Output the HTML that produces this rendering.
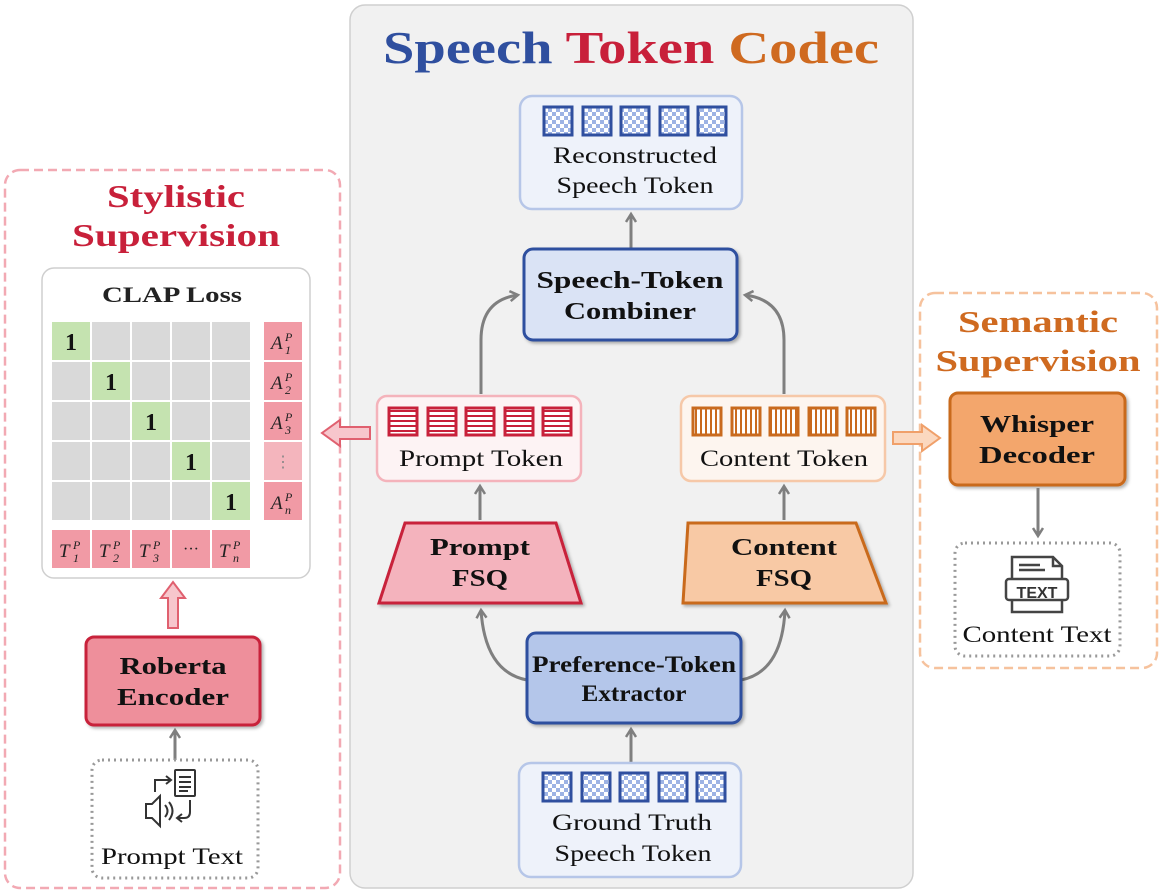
<!DOCTYPE html>
<html><head><meta charset="utf-8"><style>html,body{margin:0;padding:0;background:#fff}svg{display:block}text{font-family:"Liberation Serif",serif}</style></head><body>
<svg width="1163" height="894" viewBox="0 0 1163 894" xmlns="http://www.w3.org/2000/svg">
<defs>
<pattern id="chk" width="8" height="8" patternUnits="userSpaceOnUse"><rect width="8" height="8" fill="#fff"/><rect width="4" height="4" fill="#9db3e4"/><rect x="4" y="4" width="4" height="4" fill="#9db3e4"/></pattern>
<pattern id="hst" width="6" height="5" patternUnits="userSpaceOnUse"><rect width="6" height="5" fill="#fff"/><rect y="0" width="6" height="2" fill="#c8203a"/></pattern>
<pattern id="vst" width="5" height="6" patternUnits="userSpaceOnUse"><rect width="5" height="6" fill="#fff"/><rect x="0" width="2" height="6" fill="#c96a1e"/></pattern>
<marker id="ah" markerWidth="12" markerHeight="12" refX="9" refY="6" orient="auto" markerUnits="userSpaceOnUse"><path d="M1,1 L9,6 L1,11" fill="none" stroke="#7f7f7f" stroke-width="2.5"/></marker>
<filter id="sh" x="-10%" y="-10%" width="130%" height="130%"><feDropShadow dx="2" dy="2" stdDeviation="1.5" flood-color="#000" flood-opacity="0.3"/></filter>
</defs>
<rect width="1163" height="894" fill="#fff"/>
<rect x="350" y="5" width="563" height="883" rx="15" fill="#f1f1f1" stroke="#cfcfcf" stroke-width="1.5"/>
<text x="631" y="63" text-anchor="middle" font-size="46" font-weight="bold" textLength="496" lengthAdjust="spacingAndGlyphs"><tspan fill="#2f4f9f">Speech</tspan> <tspan fill="#c8203a">Token</tspan> <tspan fill="#cf6a20">Codec</tspan></text>

<rect x="5" y="170" width="335" height="718" rx="15" fill="#fff" stroke="#f2a9b3" stroke-width="2.5" stroke-dasharray="9,5"/>
<text x="176" y="207" text-anchor="middle" font-size="32" font-weight="bold" fill="#c8203a" textLength="138" lengthAdjust="spacingAndGlyphs">Stylistic</text>
<text x="176" y="246" text-anchor="middle" font-size="32" font-weight="bold" fill="#c8203a" textLength="208" lengthAdjust="spacingAndGlyphs">Supervision</text>
<rect x="42" y="268" width="268" height="310" rx="12" fill="#fff" stroke="#cfcfcf" stroke-width="1.5"/>
<text x="172" y="302" text-anchor="middle" font-size="22" font-weight="bold" fill="#222" textLength="140" lengthAdjust="spacingAndGlyphs">CLAP Loss</text>
<g fill="#d9d9d9">
<rect x="52" y="322" width="38" height="38" fill="#c5e3b0"/><rect x="92" y="322" width="38" height="38"/><rect x="132" y="322" width="38" height="38"/><rect x="172" y="322" width="38" height="38"/><rect x="212" y="322" width="38" height="38"/>
<rect x="52" y="362" width="38" height="38"/><rect x="92" y="362" width="38" height="38" fill="#c5e3b0"/><rect x="132" y="362" width="38" height="38"/><rect x="172" y="362" width="38" height="38"/><rect x="212" y="362" width="38" height="38"/>
<rect x="52" y="402" width="38" height="38"/><rect x="92" y="402" width="38" height="38"/><rect x="132" y="402" width="38" height="38" fill="#c5e3b0"/><rect x="172" y="402" width="38" height="38"/><rect x="212" y="402" width="38" height="38"/>
<rect x="52" y="442" width="38" height="38"/><rect x="92" y="442" width="38" height="38"/><rect x="132" y="442" width="38" height="38"/><rect x="172" y="442" width="38" height="38" fill="#c5e3b0"/><rect x="212" y="442" width="38" height="38"/>
<rect x="52" y="482" width="38" height="38"/><rect x="92" y="482" width="38" height="38"/><rect x="132" y="482" width="38" height="38"/><rect x="172" y="482" width="38" height="38"/><rect x="212" y="482" width="38" height="38" fill="#c5e3b0"/>
</g>
<g font-size="24" font-weight="bold" fill="#111" text-anchor="middle">
<text x="71" y="350">1</text><text x="111" y="390">1</text><text x="151" y="430">1</text><text x="191" y="470">1</text><text x="231" y="510">1</text></g>
<g fill="#f19aa5">
<rect x="264" y="322" width="38" height="38"/><rect x="264" y="362" width="38" height="38"/><rect x="264" y="402" width="38" height="38"/><rect x="264" y="442" width="38" height="38" fill="#f4b5bd"/><rect x="264" y="482" width="38" height="38"/>
<rect x="52" y="530" width="38" height="38"/><rect x="92" y="530" width="38" height="38"/><rect x="132" y="530" width="38" height="38"/><rect x="172" y="530" width="38" height="38"/><rect x="212" y="530" width="38" height="38"/>
</g>
<g font-size="19" font-style="italic" fill="#222">
<text x="271" y="349">A</text><text x="285" y="341" font-size="12">P</text><text x="285" y="354" font-size="12">1</text>
<text x="271" y="389">A</text><text x="285" y="381" font-size="12">P</text><text x="285" y="394" font-size="12">2</text>
<text x="271" y="429">A</text><text x="285" y="421" font-size="12">P</text><text x="285" y="434" font-size="12">3</text>
<text x="283" y="467" font-style="normal" font-size="16" fill="#888" text-anchor="middle">⋮</text>
<text x="271" y="509">A</text><text x="285" y="501" font-size="12">P</text><text x="285" y="514" font-size="12">n</text>
<text x="59" y="557">T</text><text x="73" y="549" font-size="12">P</text><text x="73" y="562" font-size="12">1</text>
<text x="99" y="557">T</text><text x="113" y="549" font-size="12">P</text><text x="113" y="562" font-size="12">2</text>
<text x="139" y="557">T</text><text x="153" y="549" font-size="12">P</text><text x="153" y="562" font-size="12">3</text>
<text x="191" y="554" font-style="normal" font-size="16" text-anchor="middle">···</text>
<text x="219" y="557">T</text><text x="233" y="549" font-size="12">P</text><text x="233" y="562" font-size="12">n</text>
</g>
<path d="M168,628 L168,598 L161,598 L173,582 L185,598 L178,598 L178,628 Z" fill="#f7c6cc" stroke="#e0606f" stroke-width="2"/>
<path d="M370,427 L340,427 L340,420 L322,433 L340,446 L340,439 L370,439 Z" fill="#f7c6cc" stroke="#e0606f" stroke-width="2"/>
<rect x="86" y="637" width="174" height="88" rx="8" fill="#ee8f9b" stroke="#c8203a" stroke-width="3" filter="url(#sh)"/>
<text x="173" y="674" text-anchor="middle" font-size="24" font-weight="bold" fill="#111" textLength="107" lengthAdjust="spacingAndGlyphs">Roberta</text>
<text x="173" y="705" text-anchor="middle" font-size="24" font-weight="bold" fill="#111" textLength="112" lengthAdjust="spacingAndGlyphs">Encoder</text>
<line x1="175" y1="760" x2="175" y2="730" stroke="#7f7f7f" stroke-width="3" marker-end="url(#ah)"/>
<rect x="92" y="760" width="166" height="118" rx="10" fill="#fff" stroke="#999" stroke-width="3" stroke-dasharray="2,4"/>
<g stroke="#333" stroke-width="2" fill="none">
<path d="M146,804 L152,804 L160,796 L160,826 L152,818 L146,818 Z"/>
<path d="M165,805 Q170,811 165,817 M169,802 Q176,811 169,820"/>
<path d="M155,792 L155,780 L170,780" /><path d="M166,776 L171,780 L166,784"/>
<rect x="175" y="770" width="20" height="26" rx="1"/><path d="M179,777 H191 M179,782 H191 M179,787 H191 M179,791 H188"/>
<path d="M190,800 L190,812 Q190,818 184,818 L178,818"/><path d="M182,814 L177,818 L182,822"/>
</g>
<text x="172" y="864" text-anchor="middle" font-size="23" fill="#111" textLength="142" lengthAdjust="spacingAndGlyphs">Prompt Text</text>

<rect x="920" y="293" width="237" height="375" rx="15" fill="#fff" stroke="#f6c29d" stroke-width="2.5" stroke-dasharray="9,5"/>
<text x="1038" y="332" text-anchor="middle" font-size="31" font-weight="bold" fill="#cf6a20" textLength="160" lengthAdjust="spacingAndGlyphs">Semantic</text>
<text x="1038" y="371" text-anchor="middle" font-size="31" font-weight="bold" fill="#cf6a20" textLength="205" lengthAdjust="spacingAndGlyphs">Supervision</text>
<rect x="950" y="393" width="175" height="92" rx="8" fill="#f3a66c" stroke="#c96a1e" stroke-width="3" filter="url(#sh)"/>
<text x="1037" y="432" text-anchor="middle" font-size="24" font-weight="bold" fill="#111" textLength="114" lengthAdjust="spacingAndGlyphs">Whisper</text>
<text x="1037" y="463" text-anchor="middle" font-size="24" font-weight="bold" fill="#111" textLength="116" lengthAdjust="spacingAndGlyphs">Decoder</text>
<line x1="1038" y1="488" x2="1038" y2="536" stroke="#7f7f7f" stroke-width="3" marker-end="url(#ah)"/>
<rect x="955" y="543" width="165" height="113" rx="10" fill="#fff" stroke="#999" stroke-width="3" stroke-dasharray="2,4"/>
<g stroke="#444" stroke-width="2.5" fill="none">
<path d="M1012,578 L1012,557 L1053,557 L1062,566 L1062,578"/>
<path d="M1053,557 L1053,566 L1062,566"/>
<path d="M1019,565 H1040 M1019,570 H1045"/>
<path d="M1012,600 L1012,612 L1062,612 L1062,600"/>
<rect x="1006" y="579" width="62" height="21" rx="3"/>
</g>
<text x="1037" y="598" text-anchor="middle" font-size="16" font-weight="bold" fill="#333" style="font-family:'Liberation Sans',sans-serif">TEXT</text>
<text x="1037" y="642" text-anchor="middle" font-size="23" fill="#111" textLength="149" lengthAdjust="spacingAndGlyphs">Content Text</text>
<path d="M893,432 L922,432 L922,425 L940,438 L922,451 L922,444 L893,444 Z" fill="#fbd8bf" stroke="#f0a06a" stroke-width="2"/>

<rect x="520" y="96" width="222" height="113" rx="12" fill="#eef2fa" stroke="#b6c6e8" stroke-width="2.5"/>
<g stroke="#2f4f9f" stroke-width="3" fill="url(#chk)">
<rect x="544" y="107" width="28" height="28"/><rect x="583" y="107" width="28" height="28"/><rect x="621" y="107" width="28" height="28"/><rect x="660" y="107" width="28" height="28"/><rect x="698" y="107" width="28" height="28"/>
</g>
<text x="635" y="163" text-anchor="middle" font-size="23" fill="#111" textLength="164" lengthAdjust="spacingAndGlyphs">Reconstructed</text>
<text x="635" y="193" text-anchor="middle" font-size="23" fill="#111" textLength="157" lengthAdjust="spacingAndGlyphs">Speech Token</text>
<line x1="631" y1="248" x2="631" y2="214" stroke="#7f7f7f" stroke-width="3" marker-end="url(#ah)"/>
<rect x="524" y="249" width="213" height="91" rx="9" fill="#dae3f5" stroke="#2f4f9f" stroke-width="3" filter="url(#sh)"/>
<text x="630" y="288" text-anchor="middle" font-size="24" font-weight="bold" fill="#111" textLength="187" lengthAdjust="spacingAndGlyphs">Speech-Token</text>
<text x="630" y="319" text-anchor="middle" font-size="24" font-weight="bold" fill="#111" textLength="132" lengthAdjust="spacingAndGlyphs">Combiner</text>
<path d="M481,394 L481,340 Q481,300 518,295" fill="none" stroke="#7f7f7f" stroke-width="3" marker-end="url(#ah)"/>
<path d="M784,394 L784,340 Q784,300 745,295" fill="none" stroke="#7f7f7f" stroke-width="3" marker-end="url(#ah)"/>
<rect x="377" y="396" width="204" height="85" rx="10" fill="#fdf3f4" stroke="#f4b3bb" stroke-width="2.5"/>
<g stroke="#c8203a" stroke-width="3" fill="url(#hst)">
<rect x="389" y="408" width="28" height="27"/><rect x="428" y="408" width="28" height="27"/><rect x="466" y="408" width="28" height="27"/><rect x="505" y="408" width="28" height="27"/><rect x="543" y="408" width="28" height="27"/>
</g>
<text x="481" y="466" text-anchor="middle" font-size="23" fill="#111" textLength="164" lengthAdjust="spacingAndGlyphs">Prompt Token</text>
<rect x="681" y="396" width="204" height="85" rx="10" fill="#fdf5ef" stroke="#f6c8a8" stroke-width="2.5"/>
<g stroke="#c96a1e" stroke-width="3" fill="url(#vst)">
<rect x="693" y="408" width="28" height="27"/><rect x="732" y="408" width="28" height="27"/><rect x="770" y="408" width="28" height="27"/><rect x="809" y="408" width="28" height="27"/><rect x="847" y="408" width="28" height="27"/>
</g>
<text x="784" y="466" text-anchor="middle" font-size="23" fill="#111" textLength="168" lengthAdjust="spacingAndGlyphs">Content Token</text>
<line x1="480" y1="520" x2="480" y2="486" stroke="#7f7f7f" stroke-width="3" marker-end="url(#ah)"/>
<line x1="784" y1="520" x2="784" y2="486" stroke="#7f7f7f" stroke-width="3" marker-end="url(#ah)"/>
<path d="M405,523 L556,523 L581,603 L379,603 Z" fill="#f4b3bd" stroke="#c8203a" stroke-width="3" filter="url(#sh)"/>
<text x="480" y="555" text-anchor="middle" font-size="24" font-weight="bold" fill="#111" textLength="100" lengthAdjust="spacingAndGlyphs">Prompt</text>
<text x="480" y="586" text-anchor="middle" font-size="24" font-weight="bold" fill="#111" textLength="56" lengthAdjust="spacingAndGlyphs">FSQ</text>
<path d="M688,523 L856,523 L886,603 L683,603 Z" fill="#f8c9a5" stroke="#c96a1e" stroke-width="3" filter="url(#sh)"/>
<text x="784" y="555" text-anchor="middle" font-size="24" font-weight="bold" fill="#111" textLength="106" lengthAdjust="spacingAndGlyphs">Content</text>
<text x="784" y="586" text-anchor="middle" font-size="24" font-weight="bold" fill="#111" textLength="56" lengthAdjust="spacingAndGlyphs">FSQ</text>
<path d="M527,680 Q485,672 481,610" fill="none" stroke="#7f7f7f" stroke-width="3" marker-end="url(#ah)"/>
<path d="M741,680 Q782,672 785,610" fill="none" stroke="#7f7f7f" stroke-width="3" marker-end="url(#ah)"/>
<rect x="527" y="633" width="214" height="90" rx="9" fill="#b4c6ea" stroke="#2f4f9f" stroke-width="3" filter="url(#sh)"/>
<text x="634" y="672" text-anchor="middle" font-size="23" font-weight="bold" fill="#111" textLength="204" lengthAdjust="spacingAndGlyphs">Preference-Token</text>
<text x="634" y="701" text-anchor="middle" font-size="23" font-weight="bold" fill="#111" textLength="105" lengthAdjust="spacingAndGlyphs">Extractor</text>
<line x1="631" y1="762" x2="631" y2="729" stroke="#7f7f7f" stroke-width="3" marker-end="url(#ah)"/>
<rect x="519" y="763" width="222" height="114" rx="12" fill="#eef2fa" stroke="#b6c6e8" stroke-width="2.5"/>
<g stroke="#2f4f9f" stroke-width="3" fill="url(#chk)">
<rect x="543" y="773" width="28" height="28"/><rect x="582" y="773" width="28" height="28"/><rect x="620" y="773" width="28" height="28"/><rect x="659" y="773" width="28" height="28"/><rect x="697" y="773" width="28" height="28"/>
</g>
<text x="632" y="830" text-anchor="middle" font-size="23" fill="#111" textLength="160" lengthAdjust="spacingAndGlyphs">Ground Truth</text>
<text x="633" y="861" text-anchor="middle" font-size="23" fill="#111" textLength="157" lengthAdjust="spacingAndGlyphs">Speech Token</text>
</svg>
</body></html>
